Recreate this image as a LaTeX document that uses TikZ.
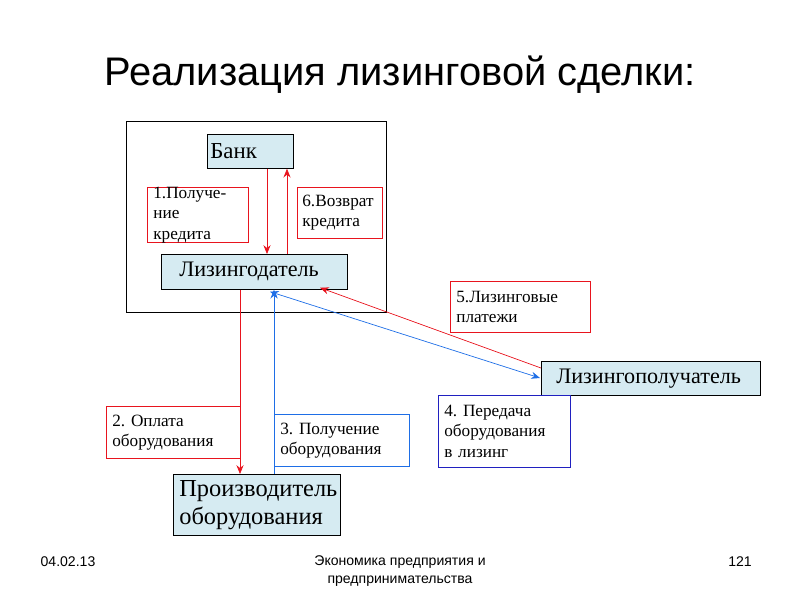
\documentclass[tikz,border=0pt]{standalone}
\usepackage{fontspec}
\setmainfont{Liberation Serif}
\newfontfamily\arial{Liberation Sans}
\usetikzlibrary{calc,arrows.meta}
\frenchspacing
\definecolor{fillb}{HTML}{D6EBF2}
\definecolor{rd}{HTML}{E8141E}
\definecolor{bl}{HTML}{1E6EE6}
\definecolor{bx}{HTML}{2020C0}
\tikzset{x=0.02cm,y=-0.02cm,
 ent/.style={draw=black,fill=fillb,anchor=north west,align=left,inner sep=0pt},
 lab/.style={draw,anchor=north west,align=left,inner sep=0pt,font=\frenchspacing\fontsize{9.8pt}{11.5pt}\selectfont},
 ra/.style={draw=rd,-{Stealth[length=5pt,width=4pt]}},
 ba/.style={draw=bl,-{Stealth[length=5pt,width=4pt]}}}
\begin{document}
\begin{tikzpicture}
\useasboundingbox (0,0) rectangle (800,600);
\node[font=\arial\fontsize{22.7pt}{26pt}\selectfont] (title) at (400,75) {Реализация лизинговой сделки:};
\draw (126,121) rectangle (386,312);
\node[ent,minimum width={86*0.02cm},minimum height={34*0.02cm},text width={80*0.02cm},font=\fontsize{13pt}{15pt}\selectfont] (bank) at (207,134) {Банк};
\node[ent,minimum width={186*0.02cm},minimum height={35*0.02cm},text width={174*0.02cm},font=\fontsize{12.6pt}{15pt}\selectfont] (lessor) at (161,254) {\hspace*{0.24cm}Лизингодатель};
\node[ent,minimum width={219*0.02cm},minimum height={34*0.02cm},text width={209*0.02cm},font=\fontsize{12.6pt}{15pt}\selectfont] (lessee) at (541,361) {\hspace*{0.2cm}Лизингополучатель};
\node[ent,minimum width={167*0.02cm},minimum height={61*0.02cm},text width={155*0.02cm},font=\fontsize{13.9pt}{16pt}\selectfont] (prod) at (173,474) {Производитель\\оборудования};
\node[lab,draw=rd,minimum width={101*0.02cm},minimum height={51*0.02cm},text width={89*0.02cm}] (l1) at (147,187) {1.Получе-\\ние кредита};
\node[lab,draw=rd,minimum width={85*0.02cm},minimum height={51*0.02cm},text width={75*0.02cm}] (l6) at (297,187) {6.Возврат\\кредита};
\node[lab,draw=rd,minimum width={140*0.02cm},minimum height={51*0.02cm},text width={128*0.02cm}] (l5) at (450,281) {5.Лизинговые\\платежи};
\node[lab,draw=bx,minimum width={132*0.02cm},minimum height={72*0.02cm},text width={120*0.02cm}] (l4) at (438,395) {4. Передача\\оборудования\\в лизинг};
\node[lab,draw=rd,minimum width={134*0.02cm},minimum height={52*0.02cm},text width={122*0.02cm}] (l2) at (106,406) {2. Оплата\\оборудования};
\node[lab,draw=bl,minimum width={135*0.02cm},minimum height={52*0.02cm},text width={123*0.02cm}] (l3) at (274,414) {3. Получение\\оборудования};
\draw[ra] ($(bank.south west)+(60,0)$) -- ($(lessor.north west)+(106,0)$);
\draw[ra] ($(lessor.north west)+(126,0)$) -- ($(bank.south west)+(80,0)$);
\draw[ra] ($(lessee.north west)+(0,7)$) -- ($(lessor.south west)+(159,-2)$);
\draw[draw=bl,{Stealth[length=5pt,width=4pt]}-{Stealth[length=5pt,width=4pt]}] ($(lessor.south west)+(109,2)$) -- ($(lessee.north west)+(-1,17)$);
\draw[ra] ($(lessor.south west)+(79,0)$) -- ($(prod.north west)+(67,0)$);
\draw[ba] ($(prod.north west)+(101,0)$) -- ($(lessor.south west)+(113,0)$);
\node[font=\arial\fontsize{8pt}{10pt}\selectfont] (date) at (68,562) {04.02.13};
\node[font=\arial\fontsize{8pt}{10pt}\selectfont,align=center] (foot) at (400,571) {Экономика предприятия и\\предпринимательства};
\node[font=\arial\fontsize{8pt}{10pt}\selectfont] (num) at (740,562) {121};
\end{tikzpicture}
\end{document}
